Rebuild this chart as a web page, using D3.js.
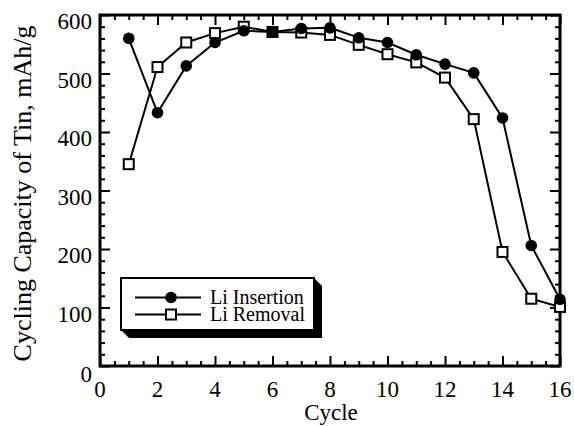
<!DOCTYPE html>
<html>
<head>
<meta charset="utf-8">
<script src="https://cdn.jsdelivr.net/npm/d3@7"></script>
<style>
  html, body { margin: 0; padding: 0; background: #fff; }
  svg { display: block; }
</style>
</head>
<body>
<svg id="chart" width="574" height="426"></svg>
<script>
// Cycle numbers
const cycles = [1, 2, 3, 4, 5, 6, 7, 8, 9, 10, 11, 12, 13, 14, 15, 16];
// Capacity during Li insertion (mAh/g)
const insertion = [560, 433, 513, 553, 573, 571, 577, 578, 561, 553, 532, 516, 501, 424, 206, 114];
// Capacity during Li removal (mAh/g)
const removal = [345, 511, 553, 569, 580, 571, 570, 566, 549, 533, 519, 493, 422, 195, 115, 101];

const xTicks = [0, 2, 4, 6, 8, 10, 12, 14, 16];
const yTicks = [0, 100, 200, 300, 400, 500, 600];
const seriesNames = ["Li Insertion", "Li Removal"];

const SERIF = "'Liberation Serif', 'Times New Roman', Times, serif";
const FONT = 23;

const svg = d3.select("#chart");
const m = { left: 100, right: 560, top: 15, bottom: 366 };

const x = d3.scaleLinear().domain([0, 16]).range([m.left, m.right]);
const y = d3.scaleLinear().domain([0, 600]).range([m.bottom, m.top]);

function label(sel, size) {
  return sel.style("font-family", SERIF).style("font-size", size + "px").attr("fill", "#000");
}

// frame ticks: majors and minors, pointing inward on all four sides
function ticks(axisGen, transform) {
  const g = svg.append("g").attr("transform", transform).call(axisGen);
  g.select(".domain").remove();
  g.selectAll("text").remove();
  g.selectAll("line").attr("stroke", "#000").attr("stroke-width", 2);
  return g;
}
const xMinor = d3.range(0, 16.01, 0.5).filter(v => v % 2 !== 0);
const yMinor = d3.range(0, 600.1, 20).filter(v => v % 100 !== 0);

// bottom
ticks(d3.axisTop(x).tickValues(xTicks).tickSize(10), `translate(0,${m.bottom})`);
ticks(d3.axisTop(x).tickValues(xMinor).tickSize(5), `translate(0,${m.bottom})`);
// top
ticks(d3.axisBottom(x).tickValues(xTicks).tickSize(10), `translate(0,${m.top})`);
ticks(d3.axisBottom(x).tickValues(xMinor).tickSize(5), `translate(0,${m.top})`);
// left
ticks(d3.axisRight(y).tickValues(yTicks).tickSize(10), `translate(${m.left},0)`);
ticks(d3.axisRight(y).tickValues(yMinor).tickSize(5), `translate(${m.left},0)`);
// right
ticks(d3.axisLeft(y).tickValues(yTicks).tickSize(10), `translate(${m.right},0)`);
ticks(d3.axisLeft(y).tickValues(yMinor).tickSize(5), `translate(${m.right},0)`);

// plot frame
svg.append("rect")
  .attr("x", m.left).attr("y", m.top)
  .attr("width", m.right - m.left).attr("height", m.bottom - m.top)
  .attr("fill", "none").attr("stroke", "#000").attr("stroke-width", 3);

// tick labels
svg.append("g").selectAll("text").data(xTicks).join("text")
  .attr("x", d => x(d)).attr("y", 397)
  .attr("text-anchor", "middle")
  .call(label, FONT)
  .text(d => d);
svg.append("g").selectAll("text").data(yTicks).join("text")
  .attr("x", 92).attr("y", d => y(d) + 14 + (d === 0 ? 2 : 0))
  .attr("text-anchor", "end")
  .call(label, FONT)
  .text(d => d);

// axis titles
svg.append("text")
  .attr("x", 331).attr("y", 420)
  .attr("text-anchor", "middle")
  .call(label, FONT)
  .text("Cycle");
svg.append("text")
  .attr("transform", "translate(31,193.5) rotate(-90)")
  .attr("text-anchor", "middle")
  .call(label, 26)
  .text("Cycling Capacity of Tin, mAh/g");

// series
const line = d3.line().x((d, i) => x(cycles[i])).y(d => y(d));
const plot = svg.append("g");

plot.append("path").datum(insertion).attr("d", line)
  .attr("fill", "none").attr("stroke", "#000").attr("stroke-width", 2);
plot.append("path").datum(removal).attr("d", line)
  .attr("fill", "none").attr("stroke", "#000").attr("stroke-width", 2);

plot.append("g").selectAll("rect").data(removal).join("rect")
  .attr("x", (d, i) => x(cycles[i]) - 5).attr("y", d => y(d) - 5)
  .attr("width", 10).attr("height", 10)
  .attr("fill", "#fff").attr("stroke", "#000").attr("stroke-width", 2);
plot.append("g").selectAll("circle").data(insertion).join("circle")
  .attr("cx", (d, i) => x(cycles[i])).attr("cy", d => y(d))
  .attr("r", 5.8).attr("fill", "#000");

// legend with bevelled drop shadow
const lg = svg.append("g");
const L = { x0: 121, y0: 278, x1: 314, y1: 330, d: 8 };
lg.append("path")
  .attr("d", `M${L.x0},${L.y1} L${L.x0 + L.d},${L.y1 + L.d} L${L.x1 + L.d},${L.y1 + L.d} L${L.x1 + L.d},${L.y0 + L.d} L${L.x1},${L.y0} Z`)
  .attr("fill", "#000");
lg.append("rect")
  .attr("x", L.x0).attr("y", L.y0)
  .attr("width", L.x1 - L.x0).attr("height", L.y1 - L.y0)
  .attr("fill", "#fff").attr("stroke", "#000").attr("stroke-width", 2);

const rows = [297.5, 314.5];
seriesNames.forEach((name, i) => {
  const cy = rows[i];
  lg.append("line").attr("x1", 135).attr("x2", 201).attr("y1", cy).attr("y2", cy)
    .attr("stroke", "#000").attr("stroke-width", 2);
  if (i === 0) {
    lg.append("circle").attr("cx", 171).attr("cy", cy).attr("r", 5.8).attr("fill", "#000");
  } else {
    lg.append("rect").attr("x", 166).attr("y", cy - 5).attr("width", 10).attr("height", 10)
      .attr("fill", "#fff").attr("stroke", "#000").attr("stroke-width", 2);
  }
  lg.append("text").attr("x", 210).attr("y", cy + 6.5)
    .call(label, 20).text(name);
});
</script>
</body>
</html>
